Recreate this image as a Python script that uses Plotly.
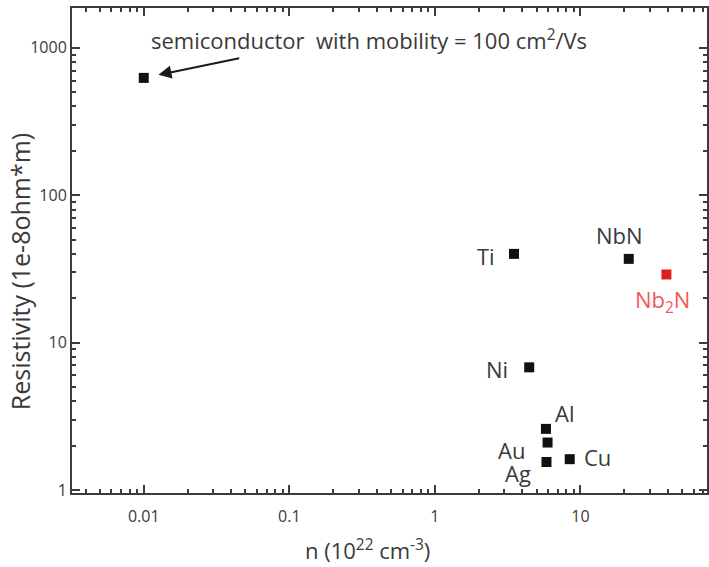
import math
import plotly.graph_objects as go

# Carrier density (1e22 cm^-3) and room-temperature resistivity (1e-8 ohm*m)
materials = ["semiconductor", "Ti", "NbN", "Nb2N", "Ni", "Al", "Au", "Ag", "Cu"]
density = [0.01, 3.5, 21.5, 39.0, 4.45, 5.8, 5.95, 5.85, 8.45]
resistivity = [625, 40, 37, 29, 6.8, 2.6, 2.1, 1.55, 1.62]

label_text = {
    "Ti": "Ti", "NbN": "NbN", "Nb2N": "Nb<sub>2</sub>N", "Ni": "Ni",
    "Al": "Al", "Au": "Au", "Ag": "Ag", "Cu": "Cu",
}
# label offsets in pixels (x, y-up)
label_shift = {
    "Ti": (-28, -2), "NbN": (-9, 24), "Nb2N": (-4, -27), "Ni": (-32, -2),
    "Al": (19, 16), "Au": (-36, -7), "Ag": (-28, -11), "Cu": (28, 2),
}

INK = "#111111"
RED = "#dd1f1f"
TEXT = "#3a3a3a"
AXIS = "#3c3c3c"
FONT = "Open Sans"

colors = [RED if m == "Nb2N" else INK for m in materials]

W, H = 709, 567
ML, MR, MT, MB = 72, 0, 8, 74
pw, ph = W - ML - MR, H - MT - MB
X_RANGE = [-2.493, 1.87]
Y_RANGE = [-0.02, 3.27]


def px_to_paper(px, py):
    return (px - ML) / pw, 1 - (py - MT) / ph


fig = go.Figure()
fig.add_trace(go.Scatter(
    x=density, y=resistivity, mode="markers",
    marker=dict(symbol="square", size=10, color=colors, line=dict(width=0)),
    showlegend=False,
))

annotations = []
for m, xv, yv in zip(materials, density, resistivity):
    if m not in label_text:
        continue
    dx, dy = label_shift[m]
    annotations.append(dict(
        x=math.log10(xv), y=math.log10(yv), xref="x", yref="y",
        text=label_text[m], showarrow=False, xshift=dx, yshift=dy,
        font=dict(family=FONT, size=22, color="#f05a5a" if m == "Nb2N" else TEXT),
    ))

# arrow pointing at the semiconductor point
annotations.append(dict(
    x=math.log10(density[0]), y=math.log10(resistivity[0]), xref="x", yref="y",
    text="", showarrow=True, ax=97, ay=-20, standoff=15,
    arrowhead=2, arrowsize=1.3, arrowwidth=2, arrowcolor="#1a1a1a",
))
cx, cy = px_to_paper(149, 40)
annotations.append(dict(
    x=cx, y=cy, xref="paper", yref="paper",
    text="semiconductor  with mobility = 100 cm<sup>2</sup>/Vs",
    showarrow=False, xanchor="left", yanchor="middle",
    font=dict(family=FONT, size=22, color=TEXT),
))

# axis titles
tx, ty = px_to_paper(368, 549)
annotations.append(dict(
    x=tx, y=ty, xref="paper", yref="paper", showarrow=False,
    text="n (10<sup>22</sup> cm<sup>-3</sup>)", xanchor="center", yanchor="middle",
    font=dict(family=FONT, size=22, color=TEXT),
))
tx, ty = px_to_paper(20, 272)
annotations.append(dict(
    x=tx, y=ty, xref="paper", yref="paper", showarrow=False, textangle=-90,
    text="Resistivity (1e-8ohm*m)", xanchor="center", yanchor="middle",
    font=dict(family=FONT, size=25, color=TEXT),
))

fig.update_xaxes(
    type="log", range=X_RANGE, dtick=1,
    showline=True, linecolor=AXIS, linewidth=2, mirror="allticks",
    ticks="inside", ticklen=8, tickwidth=2, tickcolor=AXIS, showgrid=False,
    ticklabelstandoff=8,
    minor=dict(ticks="inside", ticklen=4, tickwidth=1.5, tickcolor=AXIS, showgrid=False),
)
fig.update_yaxes(
    type="log", range=Y_RANGE, dtick=1,
    showline=True, linecolor=AXIS, linewidth=2, mirror="allticks",
    ticks="inside", ticklen=8, tickwidth=2, tickcolor=AXIS, showgrid=False,
    minor=dict(ticks="inside", ticklen=4, tickwidth=1.5, tickcolor=AXIS, showgrid=False),
)

fig.update_layout(
    width=W, height=H,
    margin=dict(l=ML, r=MR, t=MT, b=MB),
    font=dict(family=FONT, size=16, color=TEXT),
    plot_bgcolor="white", paper_bgcolor="white",
    annotations=annotations,
)

fig.write_html("out.html")
